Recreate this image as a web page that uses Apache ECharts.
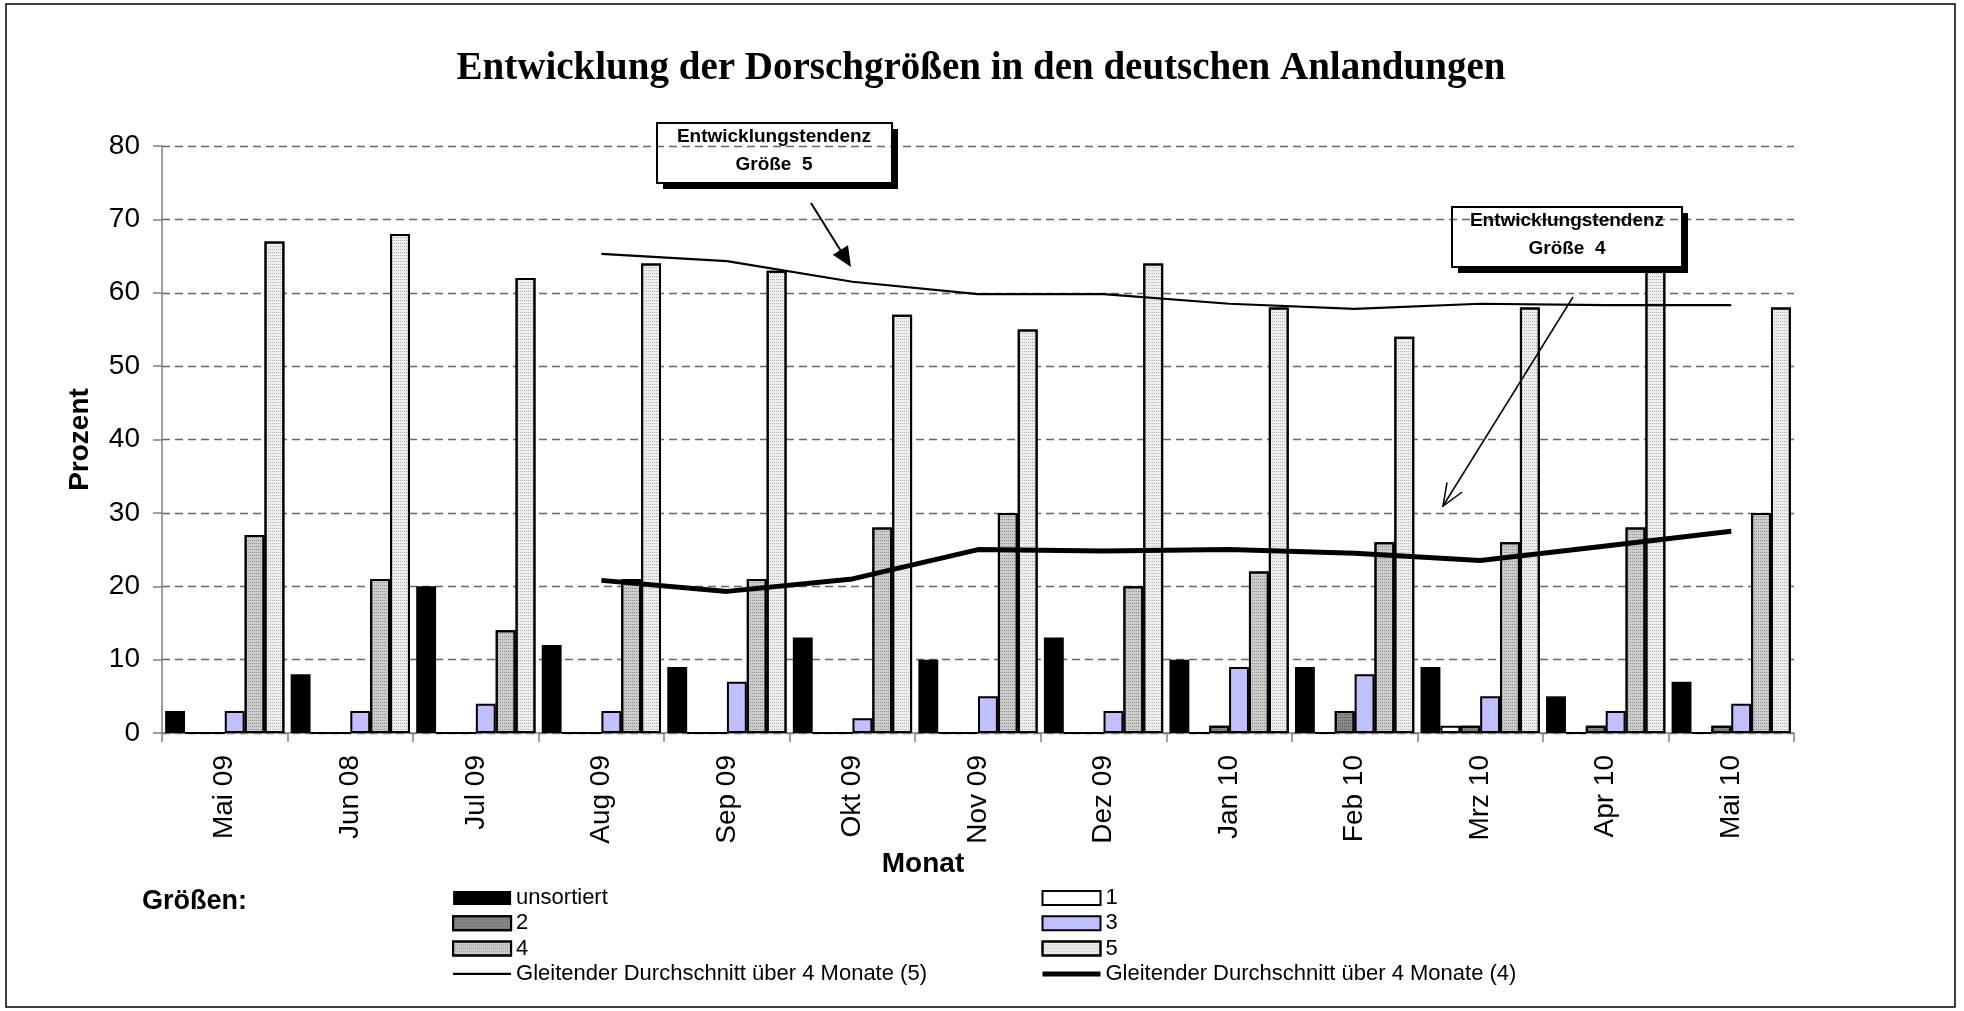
<!DOCTYPE html>
<html>
<head>
<meta charset="utf-8">
<title>Entwicklung der Dorschgrößen</title>
<script src="https://cdn.jsdelivr.net/npm/echarts@6/dist/echarts.min.js"></script>
<style>
  html, body { margin: 0; padding: 0; background: #fff; }
  #chart { width: 1964px; height: 1011px; }
</style>
</head>
<body>
<div id="chart"></div>
<script>
// Monate (Kategorien)
var monate = ['Mai 09', 'Jun 08', 'Jul 09', 'Aug 09', 'Sep 09', 'Okt 09', 'Nov 09',
              'Dez 09', 'Jan 10', 'Feb 10', 'Mrz 10', 'Apr 10', 'Mai 10'];

// Anteile in Prozent je Größe
var unsortiert = [3, 8, 20, 12, 9, 13, 10, 13, 10, 9, 9, 5, 7];
var groesse1   = [0, 0, 0, 0, 0, 0, 0, 0, 0, 0, 1, 0, 0];
var groesse2   = [0, 0, 0, 0, 0, 0, 0, 0, 1, 3, 1, 1, 1];
var groesse3   = [3, 3, 4, 3, 7, 2, 5, 3, 9, 8, 5, 3, 4];
var groesse4   = [27, 21, 14, 21, 21, 28, 30, 20, 22, 26, 26, 28, 30];
var groesse5   = [67, 68, 62, 64, 63, 57, 55, 64, 58, 54, 58, 63, 58];

// gleitender Durchschnitt über 4 Monate
var gleitend5 = ['-', '-', '-', 65.3, 64.3, 61.5, 59.8, 59.8, 58.5, 57.8, 58.5, 58.3, 58.3];
var gleitend4 = ['-', '-', '-', 20.8, 19.3, 21.0, 25.0, 24.8, 25.0, 24.5, 23.5, 25.5, 27.5];

// y-Achse
var yMin = 0, yMax = 80, yStep = 10;

var SANS = '"Liberation Sans", Arial, sans-serif';
var NAME_GD5 = 'Gleitender Durchschnitt über 4 Monate (5)';
var NAME_GD4 = 'Gleitender Durchschnitt über 4 Monate (4)';

function dots(c) {
  return { symbol: 'rect', symbolSize: 1, dashArrayX: [1, 1], dashArrayY: [1, 2], color: c };
}

function bar(name, data, color, border, decal) {
  var s = {
    name: name,
    type: 'bar',
    data: data,
    barGap: '0%',
    barCategoryGap: '5%',
    itemStyle: { color: color, borderColor: '#000', borderWidth: border }
  };
  if (decal) s.itemStyle.decal = decal;
  return s;
}

function line(name, data, width) {
  return {
    name: name,
    type: 'line',
    data: data,
    symbol: 'none',
    z: 5,
    lineStyle: { color: '#000', width: width },
    itemStyle: { color: '#000' }
  };
}

var legendText = { fontFamily: SANS, fontSize: 22, color: '#000', lineHeight: 22 };

var chart = echarts.init(document.getElementById('chart'));

chart.setOption({
  backgroundColor: '#fff',
  animation: false,
  title: {
    text: 'Entwicklung der Dorschgrößen in den deutschen Anlandungen',
    left: 976,
    textAlign: 'center',
    top: 44,
    textStyle: { fontFamily: '"Liberation Serif", "Times New Roman", serif', fontWeight: 'bold', fontSize: 39, color: '#000' }
  },
  grid: { left: 162, right: 170, top: 146, bottom: 278 },
  legend: [
    {
      orient: 'vertical', left: 452, top: 887, padding: 0,
      itemWidth: 58, itemHeight: 14, itemGap: 3.3,
      textStyle: legendText,
      data: [
        { name: 'unsortiert', icon: 'rect' },
        { name: '2', icon: 'rect' },
        { name: '4', icon: 'rect' },
        { name: NAME_GD5, itemStyle: { opacity: 0 }, lineStyle: { width: 2.2 } }
      ]
    },
    {
      orient: 'vertical', left: 1040, top: 887, padding: 0,
      itemWidth: 58, itemHeight: 14, itemGap: 3.3,
      textStyle: legendText,
      data: [
        { name: '1', icon: 'rect' },
        { name: '3', icon: 'rect' },
        { name: '5', icon: 'rect' },
        { name: NAME_GD4, itemStyle: { opacity: 0 }, lineStyle: { width: 5 } }
      ]
    }
  ],
  xAxis: {
    type: 'category',
    data: monate,
    axisLine: { lineStyle: { color: '#808080', width: 1.5 } },
    axisTick: { show: true, length: 9, lineStyle: { color: '#808080', width: 1.5 } },
    axisLabel: { rotate: 90, margin: 22, fontFamily: SANS, fontSize: 28, color: '#000' }
  },
  yAxis: {
    type: 'value',
    min: yMin, max: yMax, interval: yStep,
    name: 'Prozent',
    nameLocation: 'middle',
    nameGap: 68,
    nameRotate: 90,
    nameTextStyle: { fontFamily: SANS, fontWeight: 'bold', fontSize: 28, color: '#000' },
    axisLine: { show: true, lineStyle: { color: '#808080', width: 1.5 } },
    axisTick: { show: true, length: 9, lineStyle: { color: '#808080', width: 1.5 } },
    axisLabel: { margin: 22, fontFamily: SANS, fontSize: 28, color: '#000' },
    splitLine: { show: true, lineStyle: { type: [8, 5], color: '#666', width: 1.4 } }
  },
  series: [
    bar('unsortiert', unsortiert, '#000', 0),
    bar('1', groesse1, '#fff', 2),
    bar('2', groesse2, '#8a8a8a', 2, dots('rgba(0,0,0,0.35)')),
    bar('3', groesse3, '#c0c0ff', 2),
    bar('4', groesse4, '#cccccc', 2, dots('rgba(0,0,0,0.3)')),
    bar('5', groesse5, '#eeeeee', 2, dots('rgba(0,0,0,0.25)')),
    line(NAME_GD5, gleitend5, 2.2),
    line(NAME_GD4, gleitend4, 5)
  ],
  graphic: [
    // Rahmen um das Diagramm
    { type: 'rect', shape: { x: 6, y: 4, width: 1949, height: 1003 }, style: { fill: 'none', stroke: '#000', lineWidth: 1.5 }, z: 0 },
    { type: 'text', x: 923, y: 864, style: { text: 'Monat', font: 'bold 28px ' + SANS, fill: '#000', textAlign: 'center', textVerticalAlign: 'middle' } },
    { type: 'text', x: 142, y: 902, style: { text: 'Größen:', font: 'bold 27px ' + SANS, fill: '#000', textAlign: 'left', textVerticalAlign: 'middle' } },

    // Hinweis Größe 5
    { type: 'rect', shape: { x: 892, y: 129, width: 6, height: 60 }, style: { fill: '#000' }, z: 10 },
    { type: 'rect', shape: { x: 663, y: 183, width: 235, height: 6 }, style: { fill: '#000' }, z: 10 },
    { type: 'rect', shape: { x: 657, y: 123, width: 235, height: 60 }, style: { fill: 'none', stroke: '#000', lineWidth: 2 }, z: 10 },
    { type: 'text', x: 774, y: 137, z: 10, style: { text: 'Entwicklungstendenz', font: 'bold 19px ' + SANS, fill: '#000', textAlign: 'center', textVerticalAlign: 'middle' } },
    { type: 'text', x: 774, y: 165, z: 10, style: { text: 'Größe  5', font: 'bold 19px ' + SANS, fill: '#000', textAlign: 'center', textVerticalAlign: 'middle' } },
    { type: 'line', shape: { x1: 811, y1: 203, x2: 844, y2: 256 }, style: { stroke: '#000', lineWidth: 2 }, z: 10 },
    { type: 'polygon', shape: { points: [[851, 267], [832.8, 254.8], [848, 245.2]] }, style: { fill: '#000' }, z: 10 },

    // Hinweis Größe 4
    { type: 'rect', shape: { x: 1682, y: 213, width: 6, height: 60 }, style: { fill: '#000' }, z: 10 },
    { type: 'rect', shape: { x: 1458, y: 267, width: 230, height: 6 }, style: { fill: '#000' }, z: 10 },
    { type: 'rect', shape: { x: 1452, y: 207, width: 230, height: 60 }, style: { fill: 'none', stroke: '#000', lineWidth: 2 }, z: 10 },
    { type: 'text', x: 1567, y: 221, z: 10, style: { text: 'Entwicklungstendenz', font: 'bold 19px ' + SANS, fill: '#000', textAlign: 'center', textVerticalAlign: 'middle' } },
    { type: 'text', x: 1567, y: 249, z: 10, style: { text: 'Größe  4', font: 'bold 19px ' + SANS, fill: '#000', textAlign: 'center', textVerticalAlign: 'middle' } },
    { type: 'line', shape: { x1: 1573, y1: 297, x2: 1443, y2: 506 }, style: { stroke: '#000', lineWidth: 1.5 }, z: 10 },
    { type: 'polyline', shape: { points: [[1447, 482.5], [1443, 506], [1462.2, 492]] }, style: { stroke: '#000', lineWidth: 1.5, fill: 'none' }, z: 10 }
  ]
});
</script>
</body>
</html>
